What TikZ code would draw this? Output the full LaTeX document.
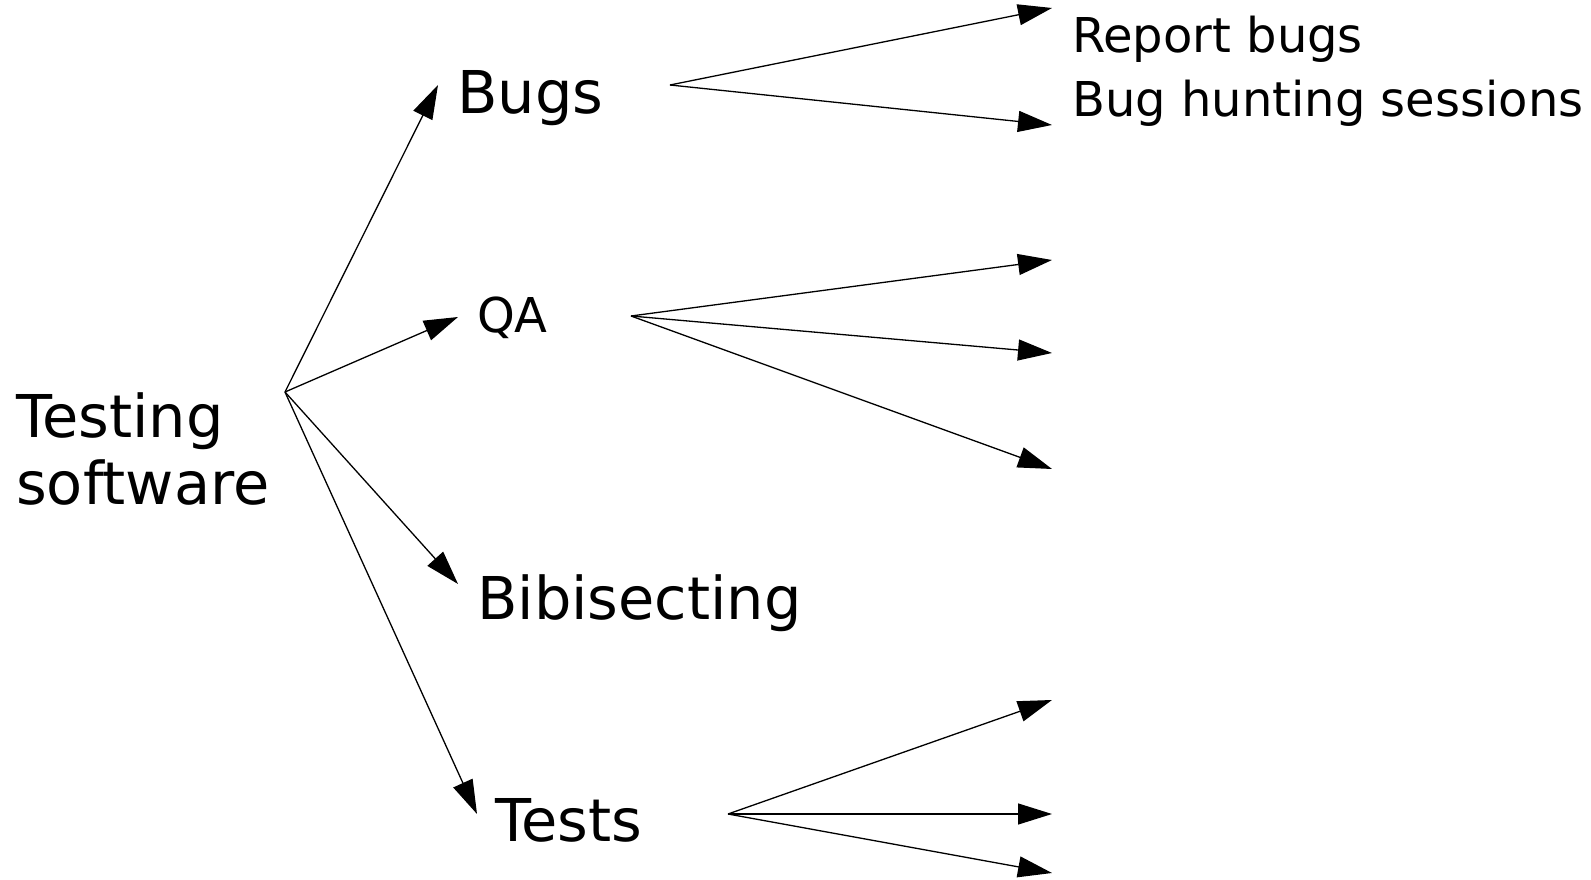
\documentclass[tikz,border=0pt]{standalone}
\usepackage{fontspec}
\setmainfont{DejaVu Sans}
\usetikzlibrary{arrows.meta}

\tikzset{
    link/.style={-{Triangle[length=34pt, width=21pt]}, line width=1.3pt},
    label/.style={anchor=base west, inner sep=0pt}
}

\begin{document}
\begin{tikzpicture}[x=1pt, y=1pt]
    \useasboundingbox (0,0) rectangle (1591,879);

    % main topics
    \node[label, align=left, font=\fontsize{59}{67}\selectfont] (testing) at (16,374) {Testing\\software};
    \node[label, font=\fontsize{59}{67}\selectfont] (bugs) at (457,765) {Bugs};
    \node[label, font=\fontsize{48}{56}\selectfont] (qa) at (477,546) {QA};
    \node[label, font=\fontsize{59}{67}\selectfont] (bisect) at (477,259) {Bibisecting};
    \node[label, font=\fontsize{59}{67}\selectfont] (tests) at (495,38) {Tests};

    % sub topics
    \node[label, font=\fontsize{48}{56}\selectfont] (report) at (1072,826) {Report bugs};
    \node[label, font=\fontsize{48}{56}\selectfont] (hunting) at (1072,762) {Bug hunting sessions};

    % hubs
    \coordinate (root) at (285,487);
    \coordinate (bugshub) at (670,794);
    \coordinate (qahub) at (631,563);
    \coordinate (testshub) at (728,65);

    % arrow ends
    \coordinate (tobugs) at (438,794);
    \coordinate (toqa) at (458,562);
    \coordinate (tobisect) at (458,295);
    \coordinate (totests) at (477,65);
    \coordinate (toreport) at (1052,871);
    \coordinate (tohunting) at (1052,754);
    \coordinate (qaone) at (1052,619);
    \coordinate (qatwo) at (1052,526);
    \coordinate (qathree) at (1052,410);
    \coordinate (testsone) at (1052,179);
    \coordinate (teststwo) at (1052,65);
    \coordinate (teststhree) at (1052,6);

    \draw[link] (root) -- (tobugs);
    \draw[link] (root) -- (toqa);
    \draw[link] (root) -- (tobisect);
    \draw[link] (root) -- (totests);

    \draw[link] (bugshub) -- (toreport);
    \draw[link] (bugshub) -- (tohunting);

    \draw[link] (qahub) -- (qaone);
    \draw[link] (qahub) -- (qatwo);
    \draw[link] (qahub) -- (qathree);

    \draw[link] (testshub) -- (testsone);
    \draw[link] (testshub) -- (teststwo);
    \draw[link] (testshub) -- (teststhree);
\end{tikzpicture}
\end{document}
